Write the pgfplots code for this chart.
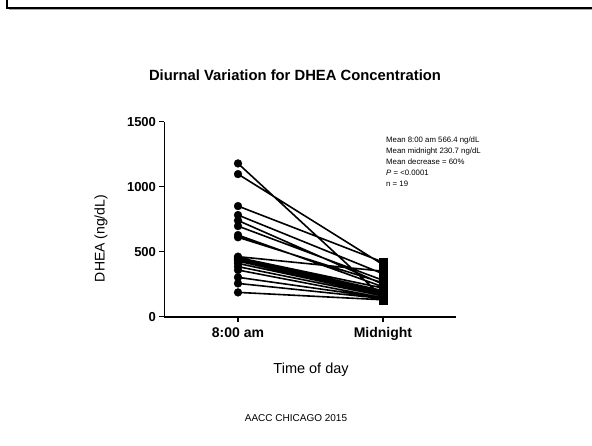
\documentclass[border=0pt]{standalone}
\usepackage{fontspec}
\setmainfont{Liberation Sans}
\usepackage{pgfplots}
\usepackage{pgfplotstable}
\pgfplotsset{compat=1.18}

% paired DHEA values (ng/dL): 8:00 am and midnight for each subject
\pgfplotstableread{
am    pm
1179  150
1097  400
851   420
782   330
740   250
697   280
628   230
611   260
462   350
455   220
449   200
440   190
428   175
410   170
385   160
359   145
303   145
256   140
187   130
}\dheadata

\begin{document}
\begin{tikzpicture}[x=1pt,y=1pt]
\useasboundingbox (0,0) rectangle (592,445);
\fill[white] (0,0) rectangle (592,445);
% slide frame
\draw[gray!70, line width=1pt] (9,435.2) -- (592,435.2);
\draw[line width=2.4pt] (7,445) -- (7,437) -- (592,437);

\node[font=\bfseries\fontsize{14.8}{17}\selectfont] at (295,370)
  {Diurnal Variation for DHEA Concentration};

\begin{axis}[
  at={(238pt,128.3pt)}, anchor=origin,
  scale only axis, width=292pt, height=195pt,
  xmin=-0.507, xmax=1.507, ymin=0, ymax=1500,
  axis x line*=bottom, axis y line*=left,
  axis line style={line width=1.8pt, -},
  xtick={0,1}, xticklabels={8:00 am, Midnight},
  ytick={0,500,1000,1500},
  tick align=outside, major tick length=5pt,
  tick style={line width=1.5pt, black},
  /pgf/number format/assume math mode=true,
  /pgf/number format/1000 sep={},
  yticklabel style={font=\bfseries\fontsize{13}{15}\selectfont},
  xticklabel style={font=\bfseries\fontsize{14}{16}\selectfont, yshift=-2pt},
  xlabel={Time of day},
  xlabel style={font=\fontsize{14.5}{17}\selectfont, at={(axis description cs:0.502,-0.273)}, anchor=center},
  ylabel={DHEA (ng/dL)},
  ylabel style={font=\fontsize{14}{17}\selectfont, at={(axis description cs:-0.2175,0.401)}, anchor=center},
  clip=false,
]
% one segment per subject, 8:00 am to midnight (nan breaks the line)
\addplot[black, line width=1.6pt, mark=none, unbounded coords=jump, forget plot] coordinates {
  (0,1179) (1,150) (0,nan)
  (0,1097) (1,400) (0,nan)
  (0,851) (1,420) (0,nan)
  (0,782) (1,330) (0,nan)
  (0,740) (1,250) (0,nan)
  (0,697) (1,280) (0,nan)
  (0,628) (1,230) (0,nan)
  (0,611) (1,260) (0,nan)
  (0,462) (1,350) (0,nan)
  (0,455) (1,220) (0,nan)
  (0,449) (1,200) (0,nan)
  (0,440) (1,190) (0,nan)
  (0,428) (1,175) (0,nan)
  (0,410) (1,170) (0,nan)
  (0,385) (1,160) (0,nan)
  (0,359) (1,145) (0,nan)
  (0,303) (1,145) (0,nan)
  (0,256) (1,140) (0,nan)
  (0,187) (1,130)
};
\addplot[only marks, mark=*, mark size=3.9pt, black] table[x expr=0, y=am] {\dheadata};
\addplot[only marks, mark=square*, mark size=4pt, black] table[x expr=1, y=pm] {\dheadata};
\end{axis}

\node[anchor=north west, align=left, inner sep=0pt,
      font=\fontsize{7.8}{11}\selectfont] at (386,308.5)
  {Mean 8:00 am 566.4 ng/dL\\
   Mean midnight 230.7 ng/dL\\
   Mean decrease = 60\%\\
   \textit{P} = <0.0001\\
   n = 19};

\node[font=\fontsize{10}{12}\selectfont] at (296,27) {AACC CHICAGO 2015};
\end{tikzpicture}
\end{document}
